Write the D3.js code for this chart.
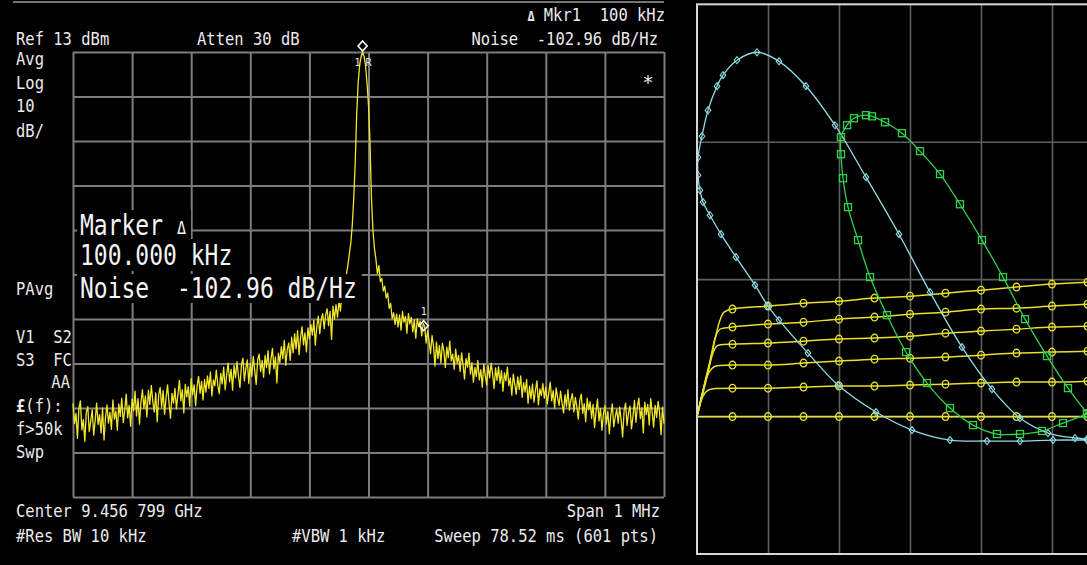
<!DOCTYPE html>
<html><head><meta charset="utf-8">
<script src="https://cdn.jsdelivr.net/npm/d3@7"></script>
<style>html,body{margin:0;padding:0;background:#000;overflow:hidden}text{font-family:"DejaVu Sans Mono",monospace;white-space:pre}</style>
</head><body>
<svg id="c" width="1087" height="565"></svg>
<script>
// ---------------- spectrum analyser data ----------------
const freqStartKHz = -500, freqStepKHz = 2.5;          // offset from centre
const freqTicks = [-500,-400,-300,-200,-100,0,100,200,300,400,500];
const levelTicks = [13,3,-7,-17,-27,-37,-47,-57,-67,-77,-87];
const traceDbm = [
-66.0,-70.5,-68.2,-73.8,-67.1,-65.4,-71.9,-69.6,-74.5,-68.0,
-66.7,-72.3,-70.0,-67.4,-73.1,-69.8,-65.9,-70.7,-68.5,-72.6,
-67.0,-74.2,-69.1,-66.3,-70.4,-68.0,-71.8,-65.2,-69.5,-67.7,
-72.0,-66.1,-68.9,-64.8,-70.3,-67.5,-63.9,-69.2,-66.4,-71.1,
-65.0,-67.6,-63.2,-68.8,-64.9,-70.6,-65.7,-62.9,-67.1,-64.3,
-69.0,-63.0,-66.2,-61.9,-65.5,-67.9,-63.6,-70.1,-64.0,-62.4,
-66.8,-63.1,-68.4,-64.6,-61.8,-66.0,-69.3,-63.7,-65.9,-62.6,
-67.2,-64.1,-60.8,-65.4,-62.9,-68.1,-61.7,-64.5,-62.2,-66.6,
-60.4,-64.0,-61.8,-66.5,-62.1,-59.9,-63.7,-61.0,-65.2,-60.6,
-63.4,-59.8,-62.6,-58.9,-64.3,-60.7,-62.0,-58.5,-61.9,-63.8,
-59.2,-61.6,-57.8,-62.9,-59.5,-56.9,-61.1,-58.3,-63.0,-57.4,
-60.2,-56.6,-59.8,-62.4,-57.3,-55.8,-60.9,-58.1,-56.2,-61.5,
-57.0,-59.9,-55.4,-58.6,-61.7,-56.1,-54.9,-58.8,-56.3,-60.1,
-55.2,-57.9,-54.1,-59.3,-56.0,-53.6,-58.2,-55.5,-61.4,-54.7,
-56.8,-53.2,-55.9,-51.8,-57.4,-53.9,-52.4,-56.3,-51.1,-54.6,
-50.3,-53.7,-49.6,-55.0,-51.2,-48.7,-52.8,-50.1,-54.4,-49.0,
-51.5,-48.2,-50.6,-47.3,-52.9,-48.8,-46.4,-50.3,-47.1,-45.8,
-49.2,-46.0,-44.7,-48.5,-45.3,-51.6,-44.1,-47.0,-43.8,-46.6,
-43.0,-45.2,-41.5,-42.3,
-39.0,-37.0,-35.0,-32.5,-30.0,-26.0,-20.0,-12.0,-1.0,6.0,10.0,12.0,13.0,12.0,10.0,6.0,1.0,-7.0,-20.0,-27.0,-31.0,
-33.5,-36.8,-35.0,-38.6,-37.9,-40.7,-39.6,-42.3,-41.2,-44.6,-43.5,-46.9,-45.6,-48.2,
-45.9,-48.8,-46.1,-49.5,-45.3,-47.7,-46.4,-50.2,-45.8,-48.1,
-46.6,-49.9,-47.2,-51.3,-46.9,-48.7,-47.5,-50.8,-48.0,-48.6,
-52.4,-49.6,-51.9,-54.8,-50.7,-53.1,-57.6,-52.2,-55.9,-53.0,
-56.8,-52.5,-54.1,-57.9,-53.3,-55.7,-52.0,-56.4,-54.9,-58.3,
-53.8,-56.9,-55.2,-58.8,-54.6,-57.3,-60.5,-55.9,-57.8,-54.7,
-59.4,-56.8,-61.2,-57.9,-59.9,-56.3,-60.7,-58.4,-62.3,-57.1,
-59.6,-61.8,-57.5,-60.2,-56.9,-59.3,-62.6,-58.0,-60.8,-57.7,
-61.4,-58.6,-63.2,-59.1,-60.9,-57.8,-62.0,-60.3,-64.1,-59.4,
-61.7,-63.9,-60.0,-62.8,-59.8,-64.6,-61.3,-63.4,-60.6,-66.0,
-62.1,-64.9,-61.6,-65.7,-63.0,-60.9,-66.3,-62.7,-64.2,-61.5,
-64.8,-62.3,-66.1,-63.6,-61.2,-65.4,-63.1,-67.0,-62.5,-64.7,
-66.4,-63.2,-65.9,-68.1,-64.0,-66.7,-62.9,-67.5,-65.1,-63.8,
-67.9,-64.6,-66.8,-69.5,-65.3,-63.9,-68.2,-66.0,-70.1,-64.8,
-67.4,-65.6,-69.3,-66.2,-71.4,-67.8,-65.0,-69.9,-67.1,-72.0,
-68.3,-66.5,-70.6,-67.7,-72.8,-68.6,-66.1,-71.2,-69.0,-67.3,
-70.4,-66.8,-69.7,-73.5,-67.6,-65.9,-70.9,-68.1,-66.6,-71.7,
-68.9,-65.3,-70.2,-66.7,-64.8,-69.4,-67.0,-72.6,-65.7,-68.5,
-66.2,-70.8,-64.9,-68.0,-71.3,-66.4,-69.1,-65.5,-67.9,-73.0,
-66.8,-70.5];
const refMarker = {f: -10, level: 13, label: ["1","R"]};
const deltaMarker = {f: 90, level: -48.5, label: "1"};
const headerTexts = ["Ref 13 dBm", "Atten 30 dB", "Mkr1  100 kHz", "Noise  -102.96 dB/Hz"];
const sideLabels = ["Avg","Log","10","dB/","PAvg","V1  S2","S3  FC","AA","(f):","f>50k","Swp"];
const footerTexts = ["Center 9.456 799 GHz","#Res BW 10 kHz","#VBW 1 kHz","Span 1 MHz","Sweep 78.52 ms (601 pts)"];
const bigTexts = ["Marker ", "100.000 kHz", "Noise  -102.96 dB/Hz"];

// ---------------- curve tracer data (divisions) ----------------
const tracerXTicks = [1,2,3,4,5];
const tracerYTicks = [1,2,3];
const ivCurve1 = [[0,1.0],[0.14,1.29],[0.24,1.53],[0.31,1.68],[0.38,1.76],[0.5,1.782],[1,1.804],[1.5,1.825],[2,1.840],[2.5,1.862],[3,1.876],[3.5,1.898],[4,1.920],[4.5,1.942],[5,1.964],[5.5,1.978]];
const ivCurve2 = [[0,1.0],[0.12,1.27],[0.19,1.42],[0.26,1.58],[0.34,1.64],[0.5,1.651],[1,1.673],[1.5,1.687],[2,1.709],[2.5,1.724],[3,1.745],[3.5,1.760],[4,1.782],[4.5,1.789],[5,1.804],[5.5,1.818]];
const ivCurve3 = [[0,1.0],[0.11,1.24],[0.17,1.36],[0.23,1.47],[0.31,1.52],[0.5,1.527],[1,1.535],[1.5,1.549],[2,1.564],[2.5,1.571],[3,1.585],[3.5,1.607],[4,1.622],[4.5,1.636],[5,1.651],[5.5,1.658]];
const ivCurve4 = [[0,1.0],[0.09,1.2],[0.14,1.29],[0.2,1.345],[0.28,1.37],[0.5,1.375],[1,1.375],[1.5,1.389],[2,1.404],[2.5,1.418],[3,1.425],[3.5,1.433],[4,1.447],[4.5,1.462],[5,1.469],[5.5,1.476]];
const ivCurve5 = [[0,1.0],[0.06,1.12],[0.11,1.17],[0.17,1.195],[0.26,1.205],[0.5,1.207],[1,1.207],[1.5,1.215],[2,1.222],[2.5,1.222],[3,1.229],[3.5,1.236],[4,1.244],[4.5,1.251],[5,1.251],[5.5,1.258]];
const ivCurve6 = [[0,1.0],[0.5,1.0],[1,1.0],[1.5,1.0],[2,1.0],[2.5,1.0],[3,1.0],[3.5,1.0],[4,1.0],[4.5,1.0],[5,1.0],[5.5,1.0]];
const cyanLoop = [[5.493,0.829],[5.014,0.829],[4.549,0.822],[4.085,0.822],[3.563,0.829],[3.028,0.902],[2.521,1.033],[1.986,1.229],[1.563,1.462],[1.155,1.702],[1.0,1.804],[0.817,1.956],[0.549,2.160],[0.338,2.327],[0.183,2.465],[0.085,2.560],[0.042,2.647],[0.014,2.756],[0.014,2.887],[0.070,3.040],[0.155,3.229],[0.282,3.404],[0.366,3.484],[0.563,3.593],[0.845,3.651],[1.155,3.585],[1.535,3.404],[1.944,3.120],[2.380,2.742],[2.845,2.327],[3.282,1.905],[3.732,1.505],[4.155,1.200],[4.549,0.989],[4.944,0.880],[5.324,0.844],[5.493,0.836]];
const greenLoop = [[5.493,1.018],[5.155,0.953],[4.859,0.895],[4.549,0.873],[4.225,0.873],[3.887,0.938],[3.563,1.062],[3.239,1.244],[2.944,1.469],[2.676,1.738],[2.437,2.015],[2.268,2.284],[2.127,2.524],[2.056,2.735],[2.028,2.909],[2.028,3.033],[2.113,3.120],[2.211,3.171],[2.380,3.193],[2.465,3.185],[2.648,3.142],[2.887,3.062],[3.141,2.931],[3.423,2.764],[3.704,2.545],[4.014,2.284],[4.310,2.015],[4.620,1.709],[4.930,1.440],[5.225,1.207],[5.493,1.025]];

// ---------------- drawing ----------------
const svg = d3.select('#c');
svg.append('rect').attr('width',1087).attr('height',565).attr('fill','#000');
const TXT = '#ececec', GRID = '#7c7c7c', YEL = '#f0e62a';

function label(s, x, y, o = {}) {
  const size = o.size || 15.5, sy = o.sy || 1.15;
  const g = svg.append('g').attr('transform', `translate(${x},${y}) scale(1,${sy})`);
  const t = g.append('text').attr('x',0).attr('y',0).attr('font-size',size)
    .attr('fill', o.fill || TXT).attr('text-anchor', o.anchor || 'start')
    .attr('font-weight', o.weight || 'normal').text(s);
  return t;
}

const x = d3.scaleLinear([-500, 500], [73, 664]);
const y = d3.scaleLinear([-87, 13], [497, 52]);

// top rule
svg.append('line').attr('x1',13).attr('x2',664).attr('y1',2).attr('y2',2).attr('stroke','#9a9a9a').attr('stroke-width',1.5);

// grid through axes
const gridG = svg.append('g');
gridG.append('g').attr('transform',`translate(0,${y(-87)})`)
  .call(d3.axisBottom(x).tickValues(freqTicks).tickSize(-(y(-87)-y(13))).tickFormat(''));
gridG.append('g').attr('transform',`translate(${x(-500)},0)`)
  .call(d3.axisLeft(y).tickValues(levelTicks).tickSize(-(x(500)-x(-500))).tickFormat(''));
gridG.selectAll('.domain').remove();
gridG.selectAll('.tick line').attr('stroke',GRID).attr('stroke-width',2);

// trace
const tracePts = traceDbm.map((v,i)=>[freqStartKHz + i*freqStepKHz, v]);
svg.append('path').datum(tracePts)
  .attr('d', d3.line().x(d=>x(d[0])).y(d=>y(d[1])))
  .attr('fill','none').attr('stroke',YEL).attr('stroke-width',1.3).attr('stroke-linejoin','round');

// big marker readout with black backgrounds
const bigG = svg.append('g');
const bigBase = [235, 265, 298];
const boxTop = [210, 239, 274], boxBot = [239, 271, 303];
bigTexts.forEach((s,i)=>{
  const r = bigG.append('rect').attr('fill','#000');
  const g = bigG.append('g').attr('transform',`translate(80,${bigBase[i]}) scale(1,1.2)`);
  const t = g.append('text').attr('font-size',23).attr('fill','#f4f4f4').text(s);
  if (i===0) t.append('tspan').attr('font-size',15).attr('dy',-1).text('Δ');
  const w = t.node().getComputedTextLength();
  r.attr('x',77).attr('y',boxTop[i]).attr('width',w+8).attr('height',boxBot[i]-boxTop[i]);
});

// markers
const diamond = 'M0,-5L4.5,0L0,5L-4.5,0Z';
svg.append('path').attr('d',diamond).attr('transform',`translate(${x(refMarker.f)},${y(refMarker.level)-6})`)
  .attr('fill','#000').attr('stroke','#fff').attr('stroke-width',1.6);
svg.append('text').attr('x',x(refMarker.f)-5).attr('y',66).attr('font-size',10).attr('fill',TXT).attr('text-anchor','middle').text(refMarker.label[0]);
svg.append('text').attr('x',x(refMarker.f)+6).attr('y',66).attr('font-size',10).attr('fill',TXT).attr('text-anchor','middle').text(refMarker.label[1]);
svg.append('path').attr('d',diamond).attr('transform',`translate(${x(deltaMarker.f)+2},${y(deltaMarker.level)})`)
  .attr('fill','none').attr('stroke','#fff').attr('stroke-width',1.6);
svg.append('text').attr('x',x(deltaMarker.f)+2).attr('y',y(deltaMarker.level)-11).attr('font-size',10).attr('fill',TXT).attr('text-anchor','middle').text(deltaMarker.label);
label('*', 648, 89, {size:19, anchor:'middle', sy:1});

// header
label(headerTexts[0], 16, 45);
label(headerTexts[1], 197, 45);
label(headerTexts[2], 665, 21, {anchor:'end'});
label('Δ', 531, 21, {size:12, weight:'bold', anchor:'middle'});
label(headerTexts[3], 658, 45, {anchor:'end'});

// side labels
const sideY = [65, 89, 112, 137, 295, 343, 366, 388, 412, 435, 458];
sideLabels.forEach((s,i)=>{
  if (s === 'AA') label(s, 70, sideY[i], {anchor:'end'});
  else if (s === '(f):') {
    const t = label('', 16, sideY[i]);
    t.append('tspan').attr('font-weight','bold').text('£');
    t.append('tspan').text(s);
  } else label(s, 16, sideY[i]);
});

// footer
label(footerTexts[0], 16, 517);
label(footerTexts[1], 16, 542);
label(footerTexts[2], 292, 542);
label(footerTexts[3], 660, 517, {anchor:'end'});
label(footerTexts[4], 658, 542, {anchor:'end'});

// ---------------- right panel ----------------
const rx = d3.scaleLinear([0, 5.5], [697, 1087.5]);
const ry = d3.scaleLinear([0, 4], [554, 4.3]);
svg.append('clipPath').attr('id','rclip').append('rect')
  .attr('x',rx(0)).attr('y',ry(4)).attr('width',rx(6)-rx(0)).attr('height',ry(0)-ry(4));
const rg = svg.append('g');
rg.append('g').attr('transform',`translate(0,${ry(0)})`)
  .call(d3.axisBottom(rx).tickValues(tracerXTicks).tickSize(-(ry(0)-ry(4))).tickFormat(''));
rg.append('g').attr('transform',`translate(${rx(0)},0)`)
  .call(d3.axisLeft(ry).tickValues(tracerYTicks).tickSize(-(rx(5.5)-rx(0))).tickFormat(''));
rg.selectAll('.domain').remove();
rg.selectAll('.tick line').attr('stroke','#5e5e5e').attr('stroke-width',1.6);

const cg = rg.append('g').attr('clip-path','url(#rclip)');
const YEL2 = '#e8e02a', CYAN = '#8fdce6', GREEN = '#2fd24a';
const lineMono = d3.line().x(d=>rx(d[0])).y(d=>ry(d[1])).curve(d3.curveMonotoneX);
[ivCurve1, ivCurve2, ivCurve3, ivCurve4, ivCurve5, ivCurve6].forEach(c=>{
  cg.append('path').datum(c).attr('d',lineMono).attr('fill','none').attr('stroke',YEL2).attr('stroke-width',1.5);
  cg.selectAll(null).data(c.filter(d=>d[0]>=0.5)).enter().append('ellipse')
    .attr('cx',d=>rx(d[0])).attr('cy',d=>ry(d[1])).attr('rx',3.3).attr('ry',3.8)
    .attr('fill','none').attr('stroke',YEL2).attr('stroke-width',1.4);
});
const lineLoop = d3.line().x(d=>rx(d[0])).y(d=>ry(d[1])).curve(d3.curveCatmullRom.alpha(0.5));
cg.append('path').datum(cyanLoop).attr('d',lineLoop).attr('fill','none').attr('stroke',CYAN).attr('stroke-width',1.3);
cg.selectAll(null).data(cyanLoop).enter().append('path')
  .attr('d','M0,-3.5L2.8,0L0,3.5L-2.8,0Z')
  .attr('transform',d=>`translate(${rx(d[0])},${ry(d[1])})`)
  .attr('fill','none').attr('stroke',CYAN).attr('stroke-width',1.1);
cg.append('path').datum(greenLoop).attr('d',lineLoop).attr('fill','none').attr('stroke',GREEN).attr('stroke-width',1.3);
cg.selectAll(null).data(greenLoop).enter().append('rect')
  .attr('x',d=>rx(d[0])-3.5).attr('y',d=>ry(d[1])-3.5).attr('width',7).attr('height',7)
  .attr('fill','none').attr('stroke',GREEN).attr('stroke-width',1.3);
rg.append('rect').attr('x',rx(0)).attr('y',ry(4)).attr('width',rx(6)-rx(0)).attr('height',ry(0)-ry(4))
  .attr('fill','none').attr('stroke','#d6d6d6').attr('stroke-width',2);
</script>
</body></html>
